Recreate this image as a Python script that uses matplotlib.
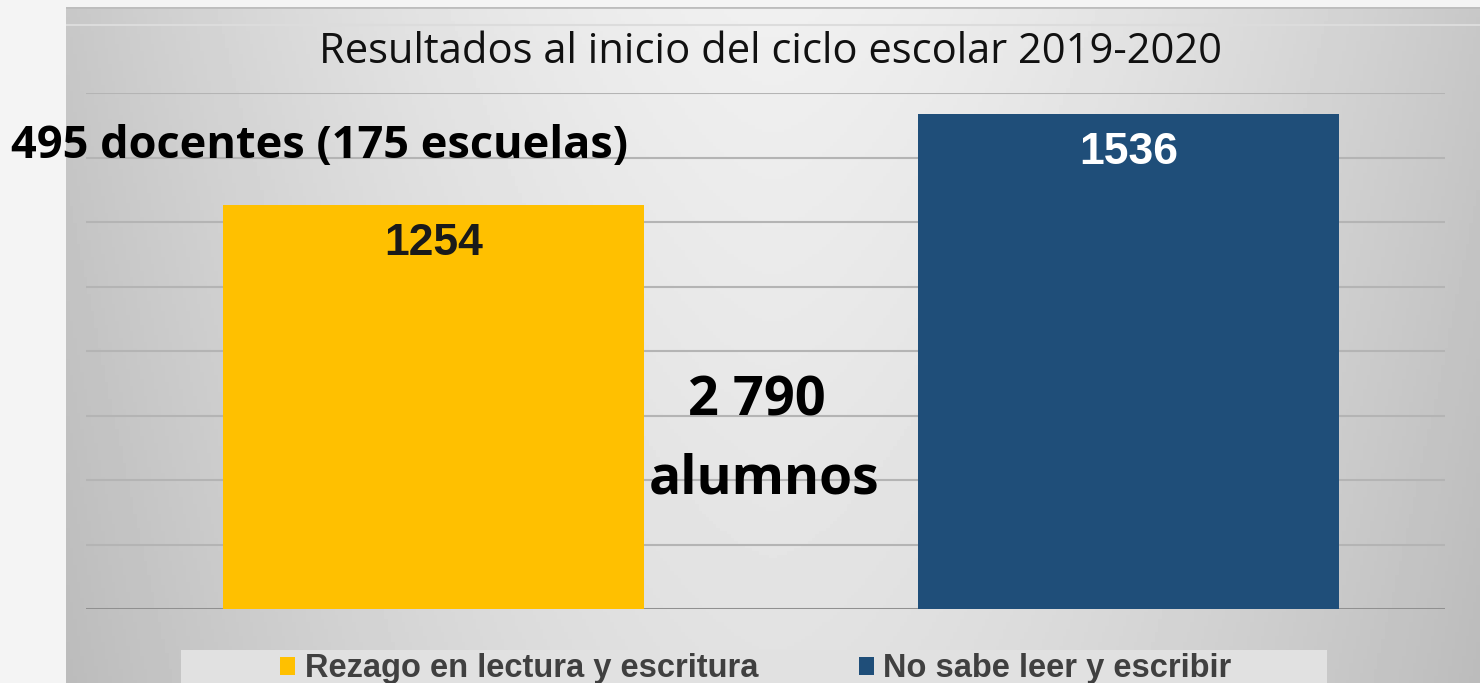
import numpy as np
import matplotlib
matplotlib.use("Agg")
import matplotlib.pyplot as plt
from matplotlib.patches import Rectangle

# data
categories = ["Rezago en lectura y escritura", "No sabe leer y escribir"]
values = [1254, 1536]
colors = ["#FFC000", "#1F4E79"]
label_colors = ["#1a1a1a", "#FFFFFF"]
title = "Resultados al inicio del ciclo escolar 2019-2020"
note_teachers = "495 docentes (175 escuelas)"
note_total = "2 790"
note_unit = "alumnos"

W, H = 1480, 683
fig = plt.figure(figsize=(W / 100, H / 100), dpi=100)
fig.patch.set_facecolor("#f4f4f4")

# grey gradient panel behind the chart
bg = fig.add_axes([66 / W, 0, 1 - 66 / W, (H - 7) / H], zorder=0)
xs = np.linspace(-1, 1, 400)
ys = np.linspace(0, 1, 200)
gx = 1 - 0.17 * np.abs(xs) ** 1.6
gy = 1 - 0.06 * ys
grad = np.outer(gy, gx) * 0.93 + 0.01
bg.imshow(grad, cmap="gray", vmin=0, vmax=1, aspect="auto", extent=[0, 1, 0, 1])
bg.axhline(1, color="#bdbdbd", lw=2)
bg.axhline(0.973, color="#dcdcdc", lw=1.5)
bg.set_xlim(0, 1)
bg.set_ylim(0, 1)
bg.axis("off")

# legend strip
fig.patches.append(Rectangle((181 / W, -0.01), (1327 - 181) / W, (683 - 650) / H + 0.01,
                             transform=fig.transFigure, facecolor="#e1e1e1",
                             edgecolor="none", zorder=0.5))

ax = fig.add_axes([86 / W, (H - 609) / H, (1445 - 86) / W, (609 - 93) / H], zorder=1)
ax.patch.set_alpha(0)
x = np.arange(len(values))
bars = ax.bar(x, values, width=0.605, color=colors, zorder=3)
ax.set_xlim(-0.5, 1.455)
ax.set_ylim(0, 1600)
ax.set_yticks(np.arange(0, 1601, 200))
ax.set_yticklabels([])
ax.set_xticks([])
ax.tick_params(length=0)
ax.grid(axis="y", color="#b4b4b4", lw=1.5, zorder=0)
ax.axhline(0, color="#8c8c8c", lw=2, zorder=2)
for s in ax.spines.values():
    s.set_visible(False)

for xi, v, c in zip(x, values, label_colors):
    ax.annotate(str(v), (xi, v), xytext=(0, -28), textcoords="offset points",
                ha="center", va="center", fontsize=32, fontweight="bold",
                color=c, family="Liberation Sans")

fig.text(771 / W, 1 - 63 / H, title, ha="center", va="baseline",
         fontsize=30, family="Open Sans", color="#111111")
fig.text(11 / W, 1 - 158 / H, note_teachers, ha="left", va="baseline",
         fontsize=32.5, fontweight="bold", family="Open Sans", color="#000000")
fig.text(757 / W, 1 - 415 / H, note_total, ha="center", va="baseline",
         fontsize=39, fontweight="bold", family="Open Sans", color="#000000")
fig.text(764 / W, 1 - 493 / H, note_unit, ha="center", va="baseline",
         fontsize=38.5, fontweight="bold", family="Open Sans", color="#000000")

# legend
leg = ax.legend(bars, categories, loc="center",
                bbox_to_anchor=(0.493, (609 - 669) / 516), ncol=2, frameon=False,
                handlelength=0.46, handleheight=0.46,
                handletextpad=0.28, columnspacing=3.1, borderpad=0,
                prop={"family": "Liberation Sans", "weight": "bold", "size": 23.5})
for t in leg.get_texts():
    t.set_color("#404040")

fig.savefig("out.png", dpi=100, facecolor=fig.get_facecolor())
